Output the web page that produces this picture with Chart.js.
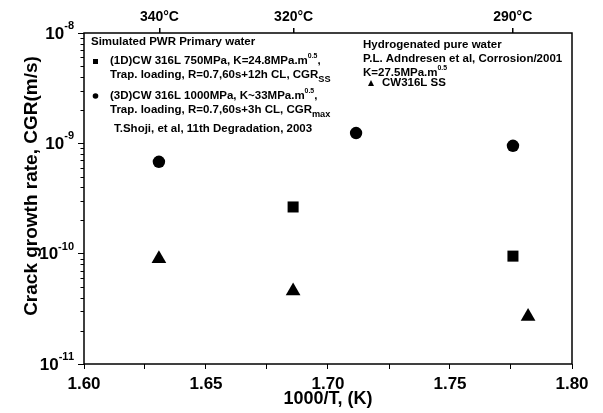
<!DOCTYPE html>
<html><head><meta charset="utf-8">
<script src="https://cdn.jsdelivr.net/npm/chart.js@4/dist/chart.umd.min.js"></script>
<style>html,body{margin:0;padding:0;background:#fff}#wrap{width:603px;height:413px;position:relative}</style>
</head><body><div id="wrap"><canvas id="c"></canvas></div>
<script>
// ---- data ----
const circleX = [1.6307, 1.7115, 1.7758];
const circleY = [6.8e-10, 1.24e-9, 9.5e-10];
const squareX = [1.6857, 1.7758];
const squareY = [2.65e-10, 9.5e-11];
const triangleX = [1.6307, 1.6857, 1.782];
const triangleY = [9.0e-11, 4.6e-11, 2.7e-11];
const xMajorTicks = [1.60, 1.65, 1.70, 1.75, 1.80];
const xMinorTicks = [1.625, 1.675, 1.725, 1.775];
const yExponents = [-8, -9, -10, -11];
const topTempsC = [340, 320, 290];
const topTempLabels = ['340°C', '320°C', '290°C'];
const xTitle = '1000/T, (K)';
const yTitle = 'Crack growth rate, CGR(m/s)';

const FF = '"Liberation Sans", Arial, sans-serif';
const pts = (xs, ys) => xs.map((x, i) => ({x: x, y: ys[i]}));
const topPos = topTempsC.map(t => 1000 / (t + 273.15));

function drawRich(ctx, x, y, segs, base) {
  let cx = x;
  ctx.textBaseline = 'middle';
  ctx.textAlign = 'left';
  for (const [t, kind] of segs) {
    let size = base, dy = 0;
    if (kind === 'sup') { size = base * 0.6; dy = -base * 0.45; }
    if (kind === 'sub') { size = base * 0.8; dy = base * 0.35; }
    ctx.font = 'bold ' + size + 'px ' + FF;
    ctx.fillText(t, cx, y + dy);
    cx += ctx.measureText(t).width;
  }
}

const overlay = {
  id: 'overlay',
  afterDraw(chart) {
    const ctx = chart.ctx, a = chart.chartArea;
    const ys = chart.scales.y;
    ctx.save();
    ctx.fillStyle = '#000'; ctx.strokeStyle = '#000';
    // frame
    ctx.lineWidth = 1.5;
    ctx.strokeRect(a.left, a.top, a.right - a.left, a.bottom - a.top);
    // y minor ticks
    ctx.lineWidth = 1;
    for (const e of yExponents) {
      for (let m = 2; m <= 9; m++) {
        const v = m * Math.pow(10, e);
        if (v > 1e-8) continue;
        const py = Math.round(ys.getPixelForValue(v)) + 0.5;
        ctx.beginPath(); ctx.moveTo(a.left - 3.5, py); ctx.lineTo(a.left, py); ctx.stroke();
      }
    }
    // y tick labels 10^n
    for (const e of yExponents) {
      const py = ys.getPixelForValue(Math.pow(10, e));
      ctx.font = 'bold 11px ' + FF;
      const sup = String(e);
      const sw = ctx.measureText(sup).width;
      ctx.font = 'bold 17px ' + FF;
      const bw = ctx.measureText('10').width;
      const right = a.left - 10;
      drawRich(ctx, right - sw - bw, py + 1, [['10', 'n']], 17);
      ctx.font = 'bold 11px ' + FF;
      ctx.fillText(sup, right - sw, py - 7);
    }
    // axis titles
    ctx.font = 'bold 18px ' + FF;
    ctx.textAlign = 'center'; ctx.textBaseline = 'middle';
    ctx.fillText(xTitle, (a.left + a.right) / 2, 399);
    ctx.save();
    ctx.translate(32, 186);
    ctx.rotate(-Math.PI / 2);
    ctx.font = 'bold 19px ' + FF;
    ctx.fillText(yTitle, 0, 0);
    ctx.restore();
    // annotations
    const L = a.left, T = a.top, fs = 11.5;
    drawRich(ctx, L + 7, T + 9, [['Simulated PWR Primary water', 'n']], fs);
    ctx.fillRect(L + 9, T + 26, 5, 5);
    drawRich(ctx, L + 26, T + 28, [['(1D)CW 316L 750MPa, K=24.8MPa.m', 'n'], ['0.5', 'sup'], [',', 'n']], fs);
    drawRich(ctx, L + 26, T + 42, [['Trap. loading, R=0.7,60s+12h CL, CGR', 'n'], ['SS', 'sub']], fs);
    ctx.beginPath(); ctx.arc(L + 11.5, T + 63, 2.8, 0, Math.PI * 2); ctx.fill();
    drawRich(ctx, L + 26, T + 63, [['(3D)CW 316L 1000MPa, K~33MPa.m', 'n'], ['0.5', 'sup'], [',', 'n']], fs);
    drawRich(ctx, L + 26, T + 77, [['Trap. loading, R=0.7,60s+3h CL, CGR', 'n'], ['max', 'sub']], fs);
    drawRich(ctx, L + 30, T + 96, [['T.Shoji, et al, 11th Degradation, 2003', 'n']], fs);
    drawRich(ctx, L + 279, T + 12, [['Hydrogenated pure water', 'n']], fs);
    drawRich(ctx, L + 279, T + 26, [['P.L. Adndresen et al, Corrosion/2001', 'n']], fs);
    drawRich(ctx, L + 279, T + 40, [['K=27.5MPa.m', 'n'], ['0.5', 'sup']], fs);
    ctx.beginPath();
    ctx.moveTo(L + 287, T + 47); ctx.lineTo(L + 290, T + 53); ctx.lineTo(L + 284, T + 53); ctx.closePath(); ctx.fill();
    drawRich(ctx, L + 298, T + 50, [['CW316L SS', 'n']], fs);
    ctx.restore();
  }
};

const tickFont = {family: FF, size: 17, weight: 'bold'};
new Chart(document.getElementById('c'), {
  type: 'scatter',
  data: {
    datasets: [
      {label: 'CGRmax', data: pts(circleX, circleY), pointStyle: 'circle', pointRadius: 6.2, backgroundColor: '#000', borderColor: '#000', borderWidth: 0},
      {label: 'CGRss', data: pts(squareX, squareY), pointStyle: 'rect', pointRadius: 7.8, backgroundColor: '#000', borderColor: '#000', borderWidth: 0},
      {label: 'CW316L SS', data: pts(triangleX, triangleY), pointStyle: 'triangle', pointRadius: 8.5, backgroundColor: '#000', borderColor: '#000', borderWidth: 0}
    ]
  },
  options: {
    responsive: true, maintainAspectRatio: false, animation: false, devicePixelRatio: 1,
    layout: {padding: 0},
    plugins: {legend: {display: false}, tooltip: {enabled: false}},
    scales: {
      x: {
        type: 'linear', position: 'bottom', min: 1.6, max: 1.8,
        afterBuildTicks: s => { s.ticks = xMajorTicks.concat(xMinorTicks).sort((p, q) => p - q).map(v => ({value: v})); },
        ticks: {color: '#000', font: tickFont, padding: 5, maxRotation: 0, autoSkip: false,
          callback: v => xMajorTicks.some(m => Math.abs(m - v) < 1e-9) ? v.toFixed(2) : ''},
        grid: {display: true, drawOnChartArea: false, drawTicks: true, tickLength: 5, color: '#000', lineWidth: 1},
        border: {display: false},
        afterFit: s => { s.height = 49; }
      },
      x2: {
        type: 'linear', position: 'top', min: 1.6, max: 1.8,
        afterBuildTicks: s => { s.ticks = topPos.map(v => ({value: v})); },
        ticks: {color: '#000', font: {family: FF, size: 14, weight: 'bold'}, padding: 2, maxRotation: 0, autoSkip: false,
          callback: (v, i) => topTempLabels[i]},
        grid: {display: true, drawOnChartArea: false, drawTicks: true, tickLength: 5, color: '#000', lineWidth: 1.5},
        border: {display: false},
        afterFit: s => { s.height = 33; }
      },
      y: {
        type: 'logarithmic', position: 'left', min: 1e-11, max: 1e-8,
        afterBuildTicks: s => { s.ticks = yExponents.map(e => ({value: Math.pow(10, e)})); },
        ticks: {display: true, callback: () => ''},
        grid: {display: true, drawOnChartArea: false, drawTicks: true, tickLength: 6, color: '#000', lineWidth: 1},
        border: {display: false},
        afterFit: s => { s.width = 84; }
      },
      y2: {
        type: 'linear', position: 'right', min: 0, max: 1,
        ticks: {display: false}, grid: {display: false}, border: {display: false},
        afterFit: s => { s.width = 31; }
      }
    }
  },
  plugins: [overlay]
});
</script></body></html>
